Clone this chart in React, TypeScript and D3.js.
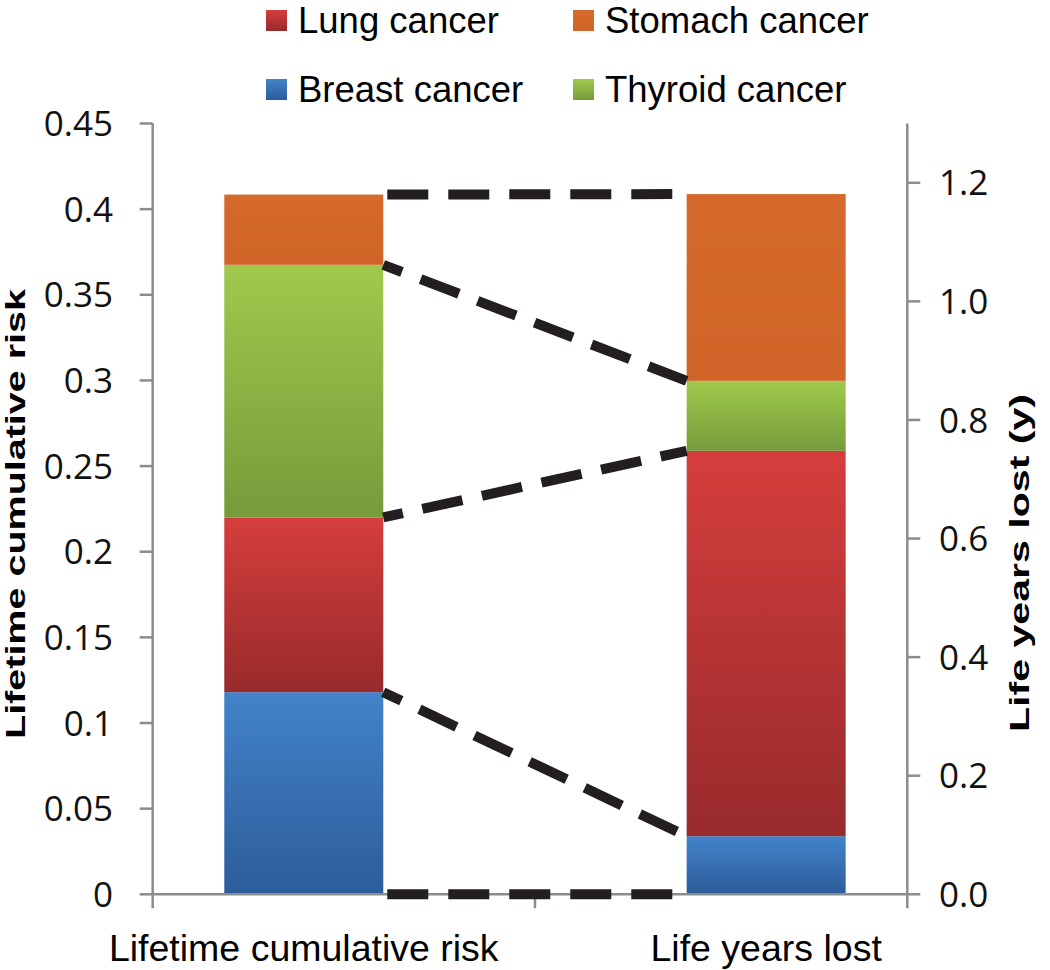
import React from "react";
import * as d3 from "d3";

// ---- data ----
const categories = ["Lifetime cumulative risk", "Life years lost"];
const seriesNames = ["Breast cancer", "Lung cancer", "Thyroid cancer", "Stomach cancer"];
// per category: [lifetime cumulative risk (left axis), life years lost (right axis)]
const breast = [0.118, 0.098];
const lung = [0.102, 0.65];
const thyroid = [0.1475, 0.118];
const stomach = [0.041, 0.315];

const leftTicks = [0, 0.05, 0.1, 0.15, 0.2, 0.25, 0.3, 0.35, 0.4, 0.45];
const leftTickLabels = ["0", "0.05", "0.1", "0.15", "0.2", "0.25", "0.3", "0.35", "0.4", "0.45"];
const rightTicks = [0, 0.2, 0.4, 0.6, 0.8, 1.0, 1.2];
const rightTickLabels = ["0.0", "0.2", "0.4", "0.6", "0.8", "1.0", "1.2"];
const leftMax = 0.45;
const rightMax = 1.3;

const legendRows = [
  ["Lung cancer", "Stomach cancer"],
  ["Breast cancer", "Thyroid cancer"],
];

const colors: Record<string, [string, string]> = {
  "Breast cancer": ["#4283C9", "#2D5C9A"],
  "Lung cancer": ["#D53E3C", "#982A2C"],
  "Thyroid cancer": ["#9FCA4C", "#779A3B"],
  "Stomach cancer": ["#D56A2C", "#D06428"],
};

export default function App() {
  const W = 1050;
  const H = 970;
  const plotTop = 123.5;
  const plotBottom = 894.3;
  const axisLeft = 152.7;
  const axisRight = 907.3;
  const barW = 159;
  const axisColor = "#8c8c8c";
  const tickFont = "'Open Sans', 'DejaVu Sans', sans-serif";
  const labelFont = "'Liberation Sans', Arial, sans-serif";

  const x = d3
    .scalePoint<string>()
    .domain(categories)
    .range([axisLeft, axisRight])
    .padding(0.316)
    .align(0.517);
  const yL = d3.scaleLinear().domain([0, leftMax]).range([plotBottom, plotTop]);
  const yR = d3.scaleLinear().domain([0, rightMax]).range([plotBottom, plotTop]);
  const yScales = [yL, yR];

  const table = categories.map((c, i) => ({
    category: c,
    "Breast cancer": breast[i],
    "Lung cancer": lung[i],
    "Thyroid cancer": thyroid[i],
    "Stomach cancer": stomach[i],
  }));
  const stacked = d3.stack<any>().keys(seriesNames)(table);

  const gid = (s: string) => "g-" + s.replace(/\s+/g, "-");

  // connector boundaries: 0 and each stack top
  const levels: { left: number; right: number; flat: boolean }[] = [
    { left: 0, right: 0, flat: true },
  ];
  stacked.forEach((layer, li) => {
    levels.push({
      left: layer[0][1],
      right: layer[1][1],
      flat: li === stacked.length - 1,
    });
  });

  const xL = (x(categories[0]) as number) + barW / 2;
  const xR = (x(categories[1]) as number) - barW / 2;
  const midTick = ((x(categories[0]) as number) + (x(categories[1]) as number)) / 2;

  return (
    <svg
      width={W}
      height={H}
      style={{ position: "absolute", left: 0, top: 0, background: "#fff" }}
    >
      <defs>
        {seriesNames.map((s) => (
          <linearGradient key={s} id={gid(s)} x1="0" y1="0" x2="0" y2="1">
            <stop offset="0%" stopColor={colors[s][0]} />
            <stop offset="100%" stopColor={colors[s][1]} />
          </linearGradient>
        ))}
      </defs>

      {/* bars */}
      {stacked.map((layer) => (
        <g key={layer.key} fill={`url(#${gid(layer.key as string)})`}>
          {layer.map((d, i) => {
            const ys = yScales[i];
            const cx = x(categories[i]) as number;
            return (
              <rect
                key={i}
                x={cx - barW / 2}
                y={ys(d[1])}
                width={barW}
                height={ys(d[0]) - ys(d[1])}
              />
            );
          })}
        </g>
      ))}

      {/* axes */}
      <g stroke={axisColor} strokeWidth={2.5} fill="none">
        <line x1={axisLeft} x2={axisLeft} y1={plotTop} y2={plotBottom + 14} />
        <line x1={axisRight} x2={axisRight} y1={plotTop} y2={plotBottom + 14} />
        <line x1={axisLeft} x2={axisRight} y1={plotBottom} y2={plotBottom} />
        {leftTicks.map((t) => (
          <line key={"lt" + t} x1={axisLeft - 13} x2={axisLeft} y1={yL(t)} y2={yL(t)} />
        ))}
        {rightTicks.map((t) => (
          <line key={"rt" + t} x1={axisRight} x2={axisRight + 13} y1={yR(t)} y2={yR(t)} />
        ))}
        <line x1={midTick} x2={midTick} y1={plotBottom} y2={plotBottom + 14} />
      </g>

      {/* connectors */}
      <g stroke="#231f20" strokeWidth={10} fill="none" strokeDasharray="41 20">
        {levels.map((lv, i) => (
          <line
            key={i}
            x1={xL}
            y1={yL(lv.left)}
            x2={xR}
            y2={yR(lv.right)}
            strokeDashoffset={lv.flat ? -4 : 21}
          />
        ))}
      </g>

      {/* tick labels */}
      <g fontFamily={tickFont} fontSize={35} fill="#111">
        {leftTicks.map((t, i) => (
          <text key={"ll" + t} x={113} y={yL(t)} dy="0.36em" textAnchor="end">
            {leftTickLabels[i]}
          </text>
        ))}
        {rightTicks.map((t, i) => (
          <text key={"rl" + t} x={939} y={yR(t)} dy="0.36em" textAnchor="start">
            {rightTickLabels[i]}
          </text>
        ))}
      </g>

      {/* category labels */}
      <g fontFamily={labelFont} fontSize={37.5} fill="#000" textAnchor="middle">
        {categories.map((c) => (
          <text key={c} x={x(c) as number} y={961}>
            {c}
          </text>
        ))}
      </g>

      {/* axis titles */}
      <text
        transform={`translate(25, 514) rotate(-90)`}
        fontFamily={labelFont}
        fontWeight="bold"
        fontSize={27}
        textAnchor="middle"
        textLength={450}
        lengthAdjust="spacingAndGlyphs"
      >
        Lifetime cumulative risk
      </text>
      <text
        transform={`translate(1029, 563) rotate(-90)`}
        fontFamily={labelFont}
        fontWeight="bold"
        fontSize={27}
        textAnchor="middle"
        textLength={338}
        lengthAdjust="spacingAndGlyphs"
      >
        Life years lost (y)
      </text>

      {/* legend */}
      {legendRows.map((row, ri) => {
        const base = [33, 102][ri];
        return row.map((name, ci) => {
          const lx = [266, 573][ci];
          return (
            <g key={name}>
              <rect x={lx} y={base - 23} width={21} height={21} fill={`url(#${gid(name)})`} />
              <text x={lx + 32} y={base} fontFamily={labelFont} fontSize={36.5} fill="#000">
                {name}
              </text>
            </g>
          );
        });
      })}
    </svg>
  );
}
